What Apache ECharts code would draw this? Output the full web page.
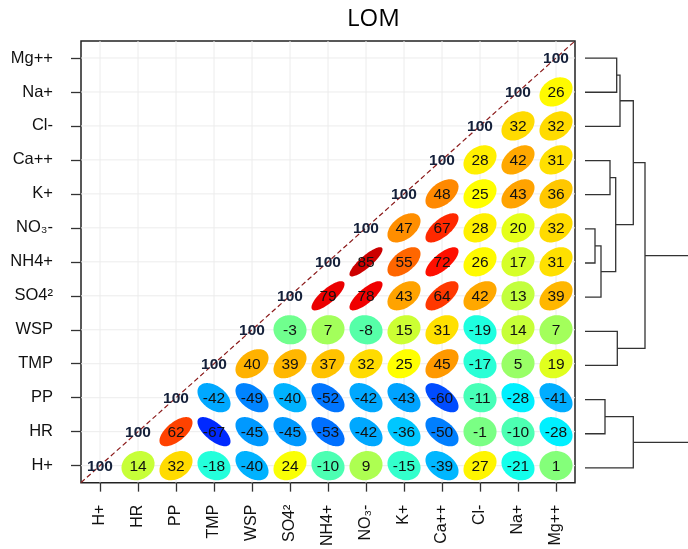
<!DOCTYPE html>
<html>
<head>
<meta charset="utf-8">
<script src="https://cdn.jsdelivr.net/npm/echarts@6/dist/echarts.min.js"></script>
<style>html,body{margin:0;padding:0;background:#fff;}#c{width:688px;height:549px;}</style>
</head>
<body>
<div id="c"></div>
<script>
// Variables (bottom-to-top on y, left-to-right on x)
const vars = ['H+','HR','PP','TMP','WSP','SO4\u00b2','NH4+','NO\u2083-','K+','Ca++','Cl-','Na+','Mg++'];
// Correlations x100, each row starts at the diagonal
const corrH   = [100,14,32,-18,-40,24,-10,9,-15,-39,27,-21,1];
const corrHR  = [100,62,-67,-45,-45,-53,-42,-36,-50,-1,-10,-28];
const corrPP  = [100,-42,-49,-40,-52,-42,-43,-60,-11,-28,-41];
const corrTMP = [100,40,39,37,32,25,45,-17,5,19];
const corrWSP = [100,-3,7,-8,15,31,-19,14,7];
const corrSO4 = [100,79,78,43,64,42,13,39];
const corrNH4 = [100,85,55,72,26,17,31];
const corrNO3 = [100,47,67,28,20,32];
const corrK   = [100,48,25,43,36];
const corrCa  = [100,28,42,31];
const corrCl  = [100,32,32];
const corrNa  = [100,26];
const corrMg  = [100];
const corrRows = [corrH,corrHR,corrPP,corrTMP,corrWSP,corrSO4,corrNH4,corrNO3,corrK,corrCa,corrCl,corrNa,corrMg];

// Dendrogram merges (hclust-like): children are leaf names or cluster ids "cN"
const mergeA = ['Mg++','c0','Ca++','NO\u2083-','c3','c2','c1','WSP','c6','PP','c9','c8'];
const mergeB = ['Na+','Cl-','K+','NH4+','SO4\u00b2','c4','c5','TMP','c7','HR','H+','c10'];
const mergeHeight = [31.7,35,25,10,16,30.7,48.3,32.3,60,20,48.3,140];

const jetStops = ['#00007F','#0000FF','#007FFF','#00FFFF','#7FFF7F','#FFFF00','#FF7F00','#FF0000','#7F0000'];
function hex2rgb(h){return [parseInt(h.substr(1,2),16),parseInt(h.substr(3,2),16),parseInt(h.substr(5,2),16)];}
function jet(r){
  let t = (r+1)/2*(jetStops.length-1);
  let i = Math.min(Math.floor(t), jetStops.length-2);
  let f = t - i;
  const a = hex2rgb(jetStops[i]), b = hex2rgb(jetStops[i+1]);
  const c = a.map((v,k)=>Math.round(v+(b[k]-v)*f));
  return 'rgb('+c.join(',')+')';
}

const cellData = [];
corrRows.forEach((row, yi) => {
  row.forEach((v, k) => { cellData.push([yi + k, yi, v]); });
});

// dendrogram positions
const pos = {}, hgt = {};
vars.forEach((v,i)=>{pos[v]=i; hgt[v]=0;});
const dendroData = [];
mergeA.forEach((a,i)=>{
  const b = mergeB[i];
  const id = 'c'+i;
  pos[id] = (pos[a]+pos[b])/2;
  hgt[id] = mergeHeight[i];
  dendroData.push([hgt[a], pos[a], hgt[b], pos[b], mergeHeight[i]]);
});

const labelFont = 'Liberation Sans, Arial, sans-serif';
const chart = echarts.init(document.getElementById('c'), null, {renderer:'canvas'});
chart.setOption({
  animation: false,
  backgroundColor: '#fff',
  title: {
    text: 'LOM', left: 342, top: 2,
    textStyle: {fontFamily: 'Open Sans, Noto Sans, sans-serif', fontSize: 24, fontWeight: 'normal', color: '#000'}
  },
  grid: [
    {left: 81, right: 113, top: 41, bottom: 64, show: true, borderColor: '#222', borderWidth: 1.5, backgroundColor: '#fff', containLabel: false},
    {left: 585, right: 0, top: 41, bottom: 64, show: false, containLabel: false}
  ],
  xAxis: [
    {type: 'category', gridIndex: 0, data: vars, boundaryGap: true,
     axisLine: {show: false},
     axisTick: {show: true, alignWithLabel: true, length: 9, interval: 0, lineStyle: {color: '#333', width: 1.3}},
     axisLabel: {interval: 0, rotate: 90, margin: 22, fontFamily: labelFont, fontSize: 16, color: '#111'},
     splitLine: {show: false}},
    {type: 'value', gridIndex: 1, min: 0, max: 103, show: false}
  ],
  yAxis: [
    {type: 'category', gridIndex: 0, data: vars, boundaryGap: true,
     axisLine: {show: false},
     axisTick: {show: true, alignWithLabel: true, length: 10, interval: 0, lineStyle: {color: '#333', width: 1.3}},
     axisLabel: {interval: 0, margin: 28, fontFamily: labelFont, fontSize: 16.5, color: '#111'},
     splitLine: {show: false}},
    {type: 'value', gridIndex: 1, min: -0.5, max: 12.5, show: false}
  ],
  series: [
    { // light grid lines at cell centres
      type: 'custom', xAxisIndex: 0, yAxisIndex: 0, z: 1, silent: true,
      data: vars.map((v,i)=>[i,i]),
      renderItem: function(params, api){
        const cs = params.coordSys;
        const c = api.coord([api.value(0), api.value(1)]);
        return {type:'group', children:[
          {type:'line', shape:{x1:c[0], y1:cs.y, x2:c[0], y2:cs.y+cs.height}, style:{stroke:'#ececec', lineWidth:1}},
          {type:'line', shape:{x1:cs.x, y1:c[1], x2:cs.x+cs.width, y2:c[1]}, style:{stroke:'#ececec', lineWidth:1}}
        ]};
      }
    },
    { // ellipses + numbers
      type: 'custom', xAxisIndex: 0, yAxisIndex: 0, z: 3, silent: true,
      data: cellData,
      renderItem: function(params, api){
        const xi = api.value(0), yi = api.value(1), v = api.value(2);
        const c = api.coord([xi, yi]);
        const cs = params.coordSys;
        const sw = cs.width/vars.length, sh = cs.height/vars.length;
        const children = [];
        if (xi !== yi) {
          const r = v/100;
          const d = Math.acos(r);
          const pts = [];
          for (let k=0;k<90;k++){
            const t = k/90*2*Math.PI;
            pts.push([c[0] + 0.435*sw*Math.cos(t+d/2), c[1] - 0.43*sh*Math.cos(t-d/2)]);
          }
          children.push({type:'polygon', shape:{points:pts}, style:{fill: jet(r)}});
          children.push({type:'text', z2: 10, style:{text:String(v), x:c[0], y:c[1]+1, align:'center', verticalAlign:'middle', fontFamily: labelFont, fontSize:15.5, fill:'#111'}});
        } else {
          children.push({type:'text', z2: 10, style:{text:String(v), x:c[0], y:c[1]+1, align:'center', verticalAlign:'middle', fontFamily: labelFont, fontSize:15.5, fontWeight:'bold', fill:'#14203a'}});
        }
        return {type:'group', children};
      }
    },
    { // dashed diagonal
      type: 'custom', xAxisIndex: 0, yAxisIndex: 0, z: 2, silent: true,
      data: [[0,0]],
      renderItem: function(params, api){
        const cs = params.coordSys;
        return {type:'line', shape:{x1:cs.x, y1:cs.y+cs.height, x2:cs.x+cs.width, y2:cs.y},
          style:{stroke:'#8b1a1a', lineWidth:1.2, lineDash:[5,3]}};
      }
    },
    { // dendrogram
      type: 'custom', xAxisIndex: 1, yAxisIndex: 1, z: 2, silent: true, clip: false,
      data: dendroData,
      renderItem: function(params, api){
        const p1 = api.coord([api.value(0), api.value(1)]);
        const p2 = api.coord([api.value(4), api.value(1)]);
        const p3 = api.coord([api.value(4), api.value(3)]);
        const p4 = api.coord([api.value(2), api.value(3)]);
        return {type:'polyline', shape:{points:[p1,p2,p3,p4]}, style:{stroke:'#333', lineWidth:1.3, fill:null}};
      }
    }
  ]
});
</script>
</body>
</html>
